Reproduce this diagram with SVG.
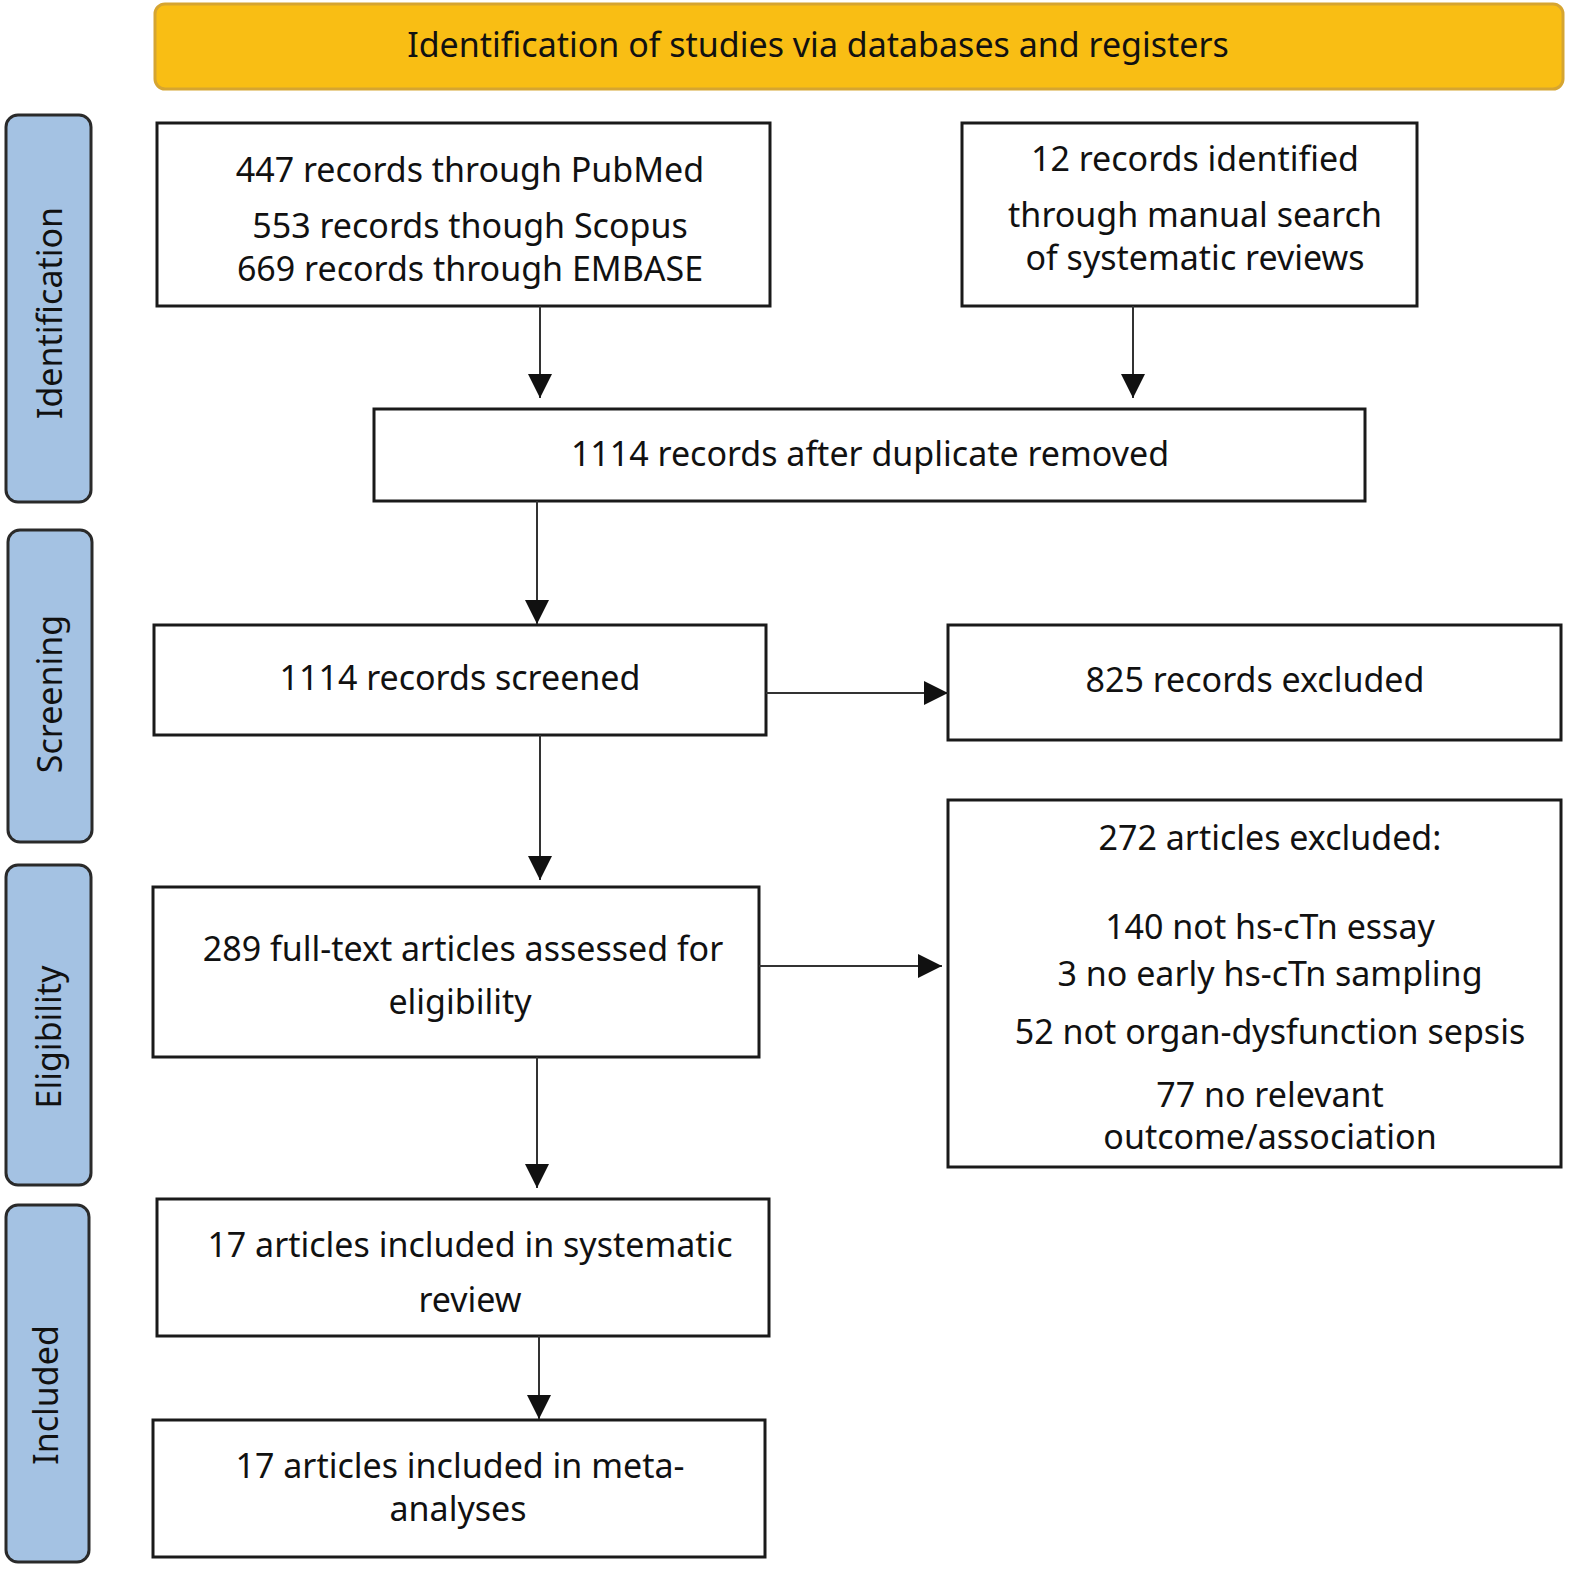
<svg xmlns="http://www.w3.org/2000/svg" width="1595" height="1594" viewBox="0 0 1595 1594">
<style>
.b{fill:#fff;stroke:#1a1a1a;stroke-width:3}
.s{fill:#A4C2E3;stroke:#2a2a2a;stroke-width:3}
text{font-family:"Noto Sans","Open Sans",sans-serif;font-size:34px;fill:#111;text-anchor:middle}
.c line{stroke:#333;stroke-width:2}
</style>
<defs><marker id="a" markerWidth="10" markerHeight="10" refX="9" refY="5" orient="auto" markerUnits="userSpaceOnUse" viewBox="0 0 10 10"><path d="M0,0L10,5L0,10z" fill="#111"/></marker>
<marker id="ar" viewBox="0 0 10 10" refX="10" refY="5" markerWidth="24" markerHeight="24" markerUnits="userSpaceOnUse" orient="auto"><path d="M0,0L10,5L0,10z" fill="#111"/></marker></defs>
<g id="header"><rect x="155" y="4" width="1408" height="85" rx="10" fill="#F9BE14" stroke="#D6A531" stroke-width="3"/><text x="818" y="57">Identification of studies via databases and registers</text></g>
<g id="lbl-id"><rect class="s" x="6" y="115" width="85" height="387" rx="12"/><text transform="translate(62,313) rotate(-90)">Identification</text></g>
<g id="lbl-sc"><rect class="s" x="8" y="530" width="84" height="312" rx="12"/><text transform="translate(62,694) rotate(-90)">Screening</text></g>
<g id="lbl-el"><rect class="s" x="6" y="865" width="85" height="320" rx="12"/><text transform="translate(61,1037) rotate(-90)">Eligibility</text></g>
<g id="lbl-in"><rect class="s" x="6" y="1205" width="83" height="357" rx="12"/><text transform="translate(58,1395) rotate(-90)">Included</text></g>
<g id="n1"><rect class="b" x="157" y="123" width="613" height="183"/><text x="470" y="182">447 records through PubMed</text><text x="470" y="238">553 records though Scopus</text><text x="470" y="281">669 records through EMBASE</text></g>
<g id="n2"><rect class="b" x="962" y="123" width="455" height="183"/><text x="1195" y="171">12 records identified</text><text x="1195" y="227">through manual search</text><text x="1195" y="270">of systematic reviews</text></g>
<g id="n3"><rect class="b" x="374" y="409" width="991" height="92"/><text x="870" y="466">1114 records after duplicate removed</text></g>
<g id="n4"><rect class="b" x="154" y="625" width="612" height="110"/><text x="460" y="690">1114 records screened</text></g>
<g id="n5"><rect class="b" x="948" y="625" width="613" height="115"/><text x="1255" y="692">825 records excluded</text></g>
<g id="n6"><rect class="b" x="948" y="800" width="613" height="367"/><text x="1270" y="850">272 articles excluded:</text><text x="1270" y="939">140 not hs-cTn essay</text><text x="1270" y="986">3 no early hs-cTn sampling</text><text x="1270" y="1044">52 not organ-dysfunction sepsis</text><text x="1270" y="1107">77 no relevant</text><text x="1270" y="1149">outcome/association</text></g>
<g id="n7"><rect class="b" x="153" y="887" width="606" height="170"/><text x="463" y="961">289 full-text articles assessed for</text><text x="460" y="1014">eligibility</text></g>
<g id="n8"><rect class="b" x="157" y="1199" width="612" height="137"/><text x="470" y="1257">17 articles included in systematic</text><text x="470" y="1312">review</text></g>
<g id="n9"><rect class="b" x="153" y="1420" width="612" height="137"/><text x="460" y="1478">17 articles included in meta-</text><text x="458" y="1521">analyses</text></g>
<g class="c" id="connectors">
<line x1="540" y1="306" x2="540" y2="398" marker-end="url(#ar)"/>
<line x1="1133" y1="306" x2="1133" y2="398" marker-end="url(#ar)"/>
<line x1="537" y1="501" x2="537" y2="624" marker-end="url(#ar)"/>
<line x1="766" y1="693" x2="948" y2="693" marker-end="url(#ar)"/>
<line x1="540" y1="735" x2="540" y2="880" marker-end="url(#ar)"/>
<line x1="759" y1="966" x2="942" y2="966" marker-end="url(#ar)"/>
<line x1="537" y1="1057" x2="537" y2="1188" marker-end="url(#ar)"/>
<line x1="539" y1="1336" x2="539" y2="1419" marker-end="url(#ar)"/>
</g>
</svg>
